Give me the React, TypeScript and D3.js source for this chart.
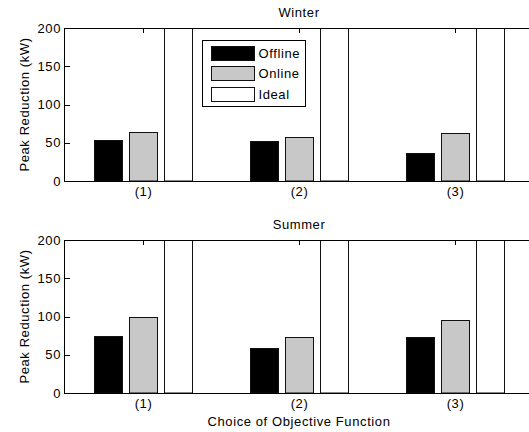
import * as React from 'react';
import * as d3 from 'd3';

const W = 529;
const H = 432;

const categories = ['(1)', '(2)', '(3)'];
const series = ['Offline', 'Online', 'Ideal'];
const seriesFill = ['#000000', '#c8c8c8', '#ffffff'];

// peak reduction (kW); ideal bars run off the top of the axes
const winterOffline = [54, 52, 36];
const winterOnline = [64, 57, 63];
const winterIdeal = [260, 260, 260];
const summerOffline = [74, 59, 73];
const summerOnline = [100, 73, 96];
const summerIdeal = [300, 300, 300];

const yTicks = [0, 50, 100, 150, 200];

const FONT = '"Liberation Sans", Arial, sans-serif';
const FS = 13;
const LS = '0.6px';

const x = d3.scaleLinear().domain([0.5, 3.5]).range([65, 533]);
const inner = d3.scaleBand<string>().domain(series).range([-52.5, 52.5]).paddingInner(0.2).paddingOuter(0.1);

interface PanelProps {
  id: string;
  title: string;
  top: number;
  bottom: number;
  data: number[][];
}

function Panel(props: PanelProps) {
  const { id, title, top, bottom, data } = props;
  const y = d3.scaleLinear().domain([0, 200]).range([bottom, top]);
  const left = x.range()[0];
  const right = x.range()[1];
  return (
    <g>
      <defs>
        <clipPath id={id}>
          <rect x={left} y={top} width={right - left} height={bottom - top} />
        </clipPath>
      </defs>
      <text x={299} y={top - 11} textAnchor="middle" fontSize={FS} letterSpacing={LS}>{title}</text>
      {/* x ticks */}
      {categories.map((c, i) => (
        <g key={c}>
          <line x1={Math.round(x(i + 1)) + 0.5} x2={Math.round(x(i + 1)) + 0.5} y1={top} y2={top + 5} stroke="#000" />
          <line x1={Math.round(x(i + 1)) + 0.5} x2={Math.round(x(i + 1)) + 0.5} y1={bottom} y2={bottom - 5} stroke="#000" />
          <text x={x(i + 1) + 0.5} y={bottom + 15} textAnchor="middle" fontSize={FS} letterSpacing={LS}>{c}</text>
        </g>
      ))}
      {/* bars */}
      <g clipPath={`url(#${id})`}>
        {series.map((s, si) =>
          data[si].map((v, i) => {
            const x0 = Math.round(x(i + 1) + (inner(s) as number)) + 0.5;
            const y0 = Math.round(y(v)) + 0.5;
            return (
              <rect key={s + i} x={x0} y={y0} width={Math.round(inner.bandwidth())}
                height={y(0) - y0} fill={seriesFill[si]} stroke="#111" strokeWidth={1} />
            );
          })
        )}
      </g>
      {/* y ticks */}
      {yTicks.map((t) => (
        <g key={t}>
          <line x1={left} x2={left + 5} y1={Math.round(y(t)) + 0.5} y2={Math.round(y(t)) + 0.5} stroke="#000" />
          <text x={61} y={y(t) + 4.7} textAnchor="end" fontSize={FS} letterSpacing={LS}>{t}</text>
        </g>
      ))}
      {/* axes lines */}
      <line x1={left - 0.5} x2={right} y1={Math.round(top) + 0.5} y2={Math.round(top) + 0.5} stroke="#000" />
      <line x1={left - 0.5} x2={right} y1={Math.round(bottom) + 0.5} y2={Math.round(bottom) + 0.5} stroke="#000" />
      <line x1={left - 0.5} x2={left - 0.5} y1={top} y2={bottom + 1} stroke="#000" />
      <text transform={`translate(28.5,${(top + bottom) / 2}) rotate(-90)`} textAnchor="middle" fontSize={FS} letterSpacing={LS}>
        Peak Reduction (kW)
      </text>
    </g>
  );
}

function Legend() {
  const rows = series.map((s, i) => ({ s, fill: seriesFill[i], y: 45.5 + i * 20.5 }));
  return (
    <g>
      <rect x={202.5} y={40.5} width={103} height={66} fill="#fff" stroke="#000" />
      {rows.map((r) => (
        <g key={r.s}>
          <rect x={211.5} y={Math.round(r.y) + 0.5} width={43} height={14} fill={r.fill} stroke="#111" />
          <text x={258.5} y={r.y + 12} fontSize={FS} letterSpacing={LS}>{r.s}</text>
        </g>
      ))}
    </g>
  );
}

export default function App() {
  return (
    <svg width={W} height={H} style={{ position: 'absolute', left: 0, top: 0, overflow: 'hidden', background: '#fff' }}
      fontFamily={FONT}>
      <rect width={W} height={H} fill="#fff" />
      <Panel id="clipWinter" title="Winter" top={28} bottom={181}
        data={[winterOffline, winterOnline, winterIdeal]} />
      <Legend />
      <Panel id="clipSummer" title="Summer" top={240} bottom={393}
        data={[summerOffline, summerOnline, summerIdeal]} />
      <text x={299} y={426} textAnchor="middle" fontSize={FS} letterSpacing={LS}>Choice of Objective Function</text>
    </svg>
  );
}
